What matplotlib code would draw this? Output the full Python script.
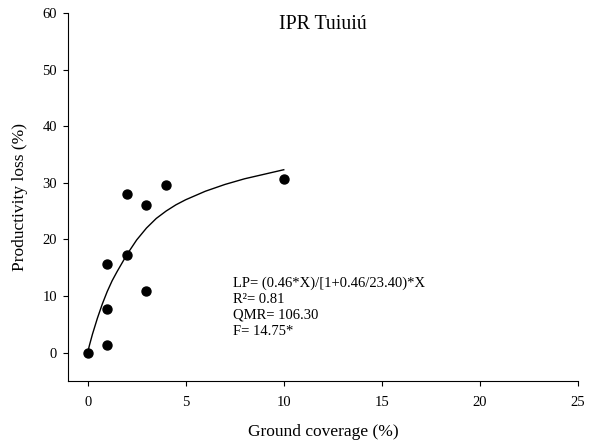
import numpy as np
import matplotlib
matplotlib.use("Agg")
import matplotlib.pyplot as plt

plt.rcParams['font.family'] = ['Liberation Serif', 'DejaVu Serif']

# observed points
cover = [0, 1, 1, 1, 2, 2, 3, 3, 4, 10]
loss = [0.0, 15.6, 7.7, 1.4, 28.0, 17.3, 26.0, 10.8, 29.6, 30.6]

# fitted curve
curve_x = [0, 0.1, 0.25, 0.5, 0.75, 1, 1.25, 1.5, 2, 2.5, 3, 3.5, 4, 4.5, 5, 6, 7, 8, 9, 10]
curve_y = [0.0, 1.4, 3.3, 6.1, 8.6, 10.8, 12.7, 14.3, 17.3, 19.9, 22.0, 23.7, 25.0, 26.1, 27.0,
           28.5, 29.7, 30.7, 31.5, 32.3]

xticks = [0, 5, 10, 15, 20, 25]
yticks = [0, 10, 20, 30, 40, 50, 60]

stats_lines = ["LP= (0.46*X)/[1+0.46/23.40)*X",
               "R\u00b2= 0.81",
               "QMR= 106.30",
               "F= 14.75*"]

fig = plt.figure(figsize=(5.94, 4.44), dpi=100)
ax = fig.add_axes([0.1145, 0.142, 0.8585, 0.829])

ax.plot(curve_x, curve_y, color='black', lw=1.0)
ax.scatter(cover, loss, s=42, color='black', zorder=3)

ax.set_xlim(-1, 25)
ax.set_ylim(-5, 60)
ax.set_xticks(xticks)
ax.set_yticks(yticks)
ax.spines['top'].set_visible(False)
ax.spines['right'].set_visible(False)
ax.tick_params(direction='out', length=3.5, width=0.8, labelsize=10.5)
ax.tick_params(axis='x', pad=7)
ax.tick_params(axis='y', pad=4.5)

ax.set_xlabel('Ground coverage (%)', fontsize=12.5)
ax.xaxis.set_label_coords(0.5, -0.118)
ax.set_ylabel('Productivity loss (%)', fontsize=12.5)
ax.yaxis.set_label_coords(-0.078, 0.5)
ax.text(12.0, 57.9, 'IPR Tuiuiú', fontsize=14.3, ha='center', va='center')

for i, line in enumerate(stats_lines):
    ax.text(7.4, 12.2 - i * 2.81, line, fontsize=10.5, va='center', ha='left')

fig.savefig('out.png', dpi=100)
